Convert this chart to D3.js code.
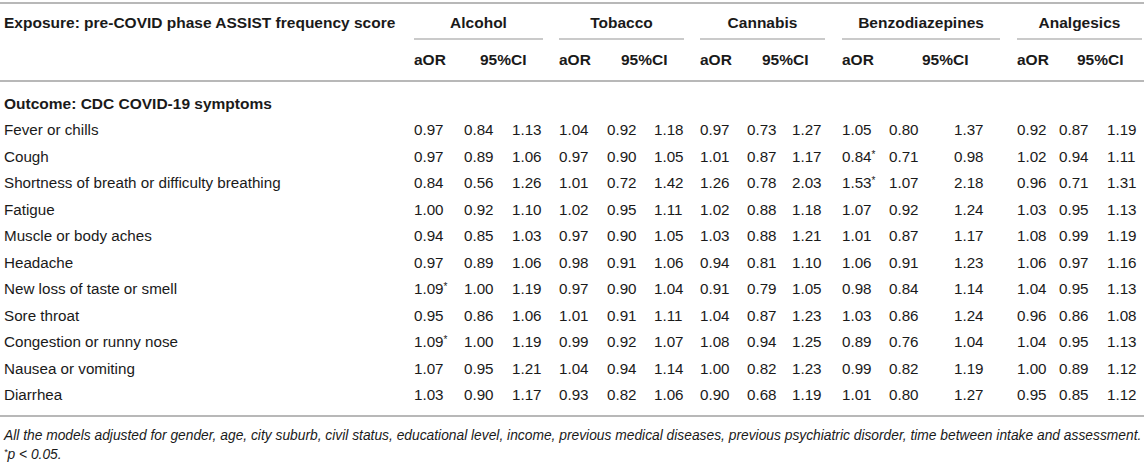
<!DOCTYPE html>
<html>
<head>
<meta charset="utf-8">
<script src="https://cdn.jsdelivr.net/npm/d3@7"></script>
<style>
  html, body { margin: 0; padding: 0; background: #fff; }
  svg { display: block; font-family: "Liberation Sans", Arial, Helvetica, sans-serif; }
</style>
</head>
<body>
<div id="chart"></div>
<script>
// ---- data ----
var symptoms = [
  "Fever or chills",
  "Cough",
  "Shortness of breath or difficulty breathing",
  "Fatigue",
  "Muscle or body aches",
  "Headache",
  "New loss of taste or smell",
  "Sore throat",
  "Congestion or runny nose",
  "Nausea or vomiting",
  "Diarrhea"
];

var substances = ["Alcohol", "Tobacco", "Cannabis", "Benzodiazepines", "Analgesics"];

// [aOR, 95%CI low, 95%CI high] per symptom
var alcohol = [
  [0.97, 0.84, 1.13], [0.97, 0.89, 1.06], [0.84, 0.56, 1.26], [1.00, 0.92, 1.10],
  [0.94, 0.85, 1.03], [0.97, 0.89, 1.06], [1.09, 1.00, 1.19], [0.95, 0.86, 1.06],
  [1.09, 1.00, 1.19], [1.07, 0.95, 1.21], [1.03, 0.90, 1.17]
];
var tobacco = [
  [1.04, 0.92, 1.18], [0.97, 0.90, 1.05], [1.01, 0.72, 1.42], [1.02, 0.95, 1.11],
  [0.97, 0.90, 1.05], [0.98, 0.91, 1.06], [0.97, 0.90, 1.04], [1.01, 0.91, 1.11],
  [0.99, 0.92, 1.07], [1.04, 0.94, 1.14], [0.93, 0.82, 1.06]
];
var cannabis = [
  [0.97, 0.73, 1.27], [1.01, 0.87, 1.17], [1.26, 0.78, 2.03], [1.02, 0.88, 1.18],
  [1.03, 0.88, 1.21], [0.94, 0.81, 1.10], [0.91, 0.79, 1.05], [1.04, 0.87, 1.23],
  [1.08, 0.94, 1.25], [1.00, 0.82, 1.23], [0.90, 0.68, 1.19]
];
var benzodiazepines = [
  [1.05, 0.80, 1.37], [0.84, 0.71, 0.98], [1.53, 1.07, 2.18], [1.07, 0.92, 1.24],
  [1.01, 0.87, 1.17], [1.06, 0.91, 1.23], [0.98, 0.84, 1.14], [1.03, 0.86, 1.24],
  [0.89, 0.76, 1.04], [0.99, 0.82, 1.19], [1.01, 0.80, 1.27]
];
var analgesics = [
  [0.92, 0.87, 1.19], [1.02, 0.94, 1.11], [0.96, 0.71, 1.31], [1.03, 0.95, 1.13],
  [1.08, 0.99, 1.19], [1.06, 0.97, 1.16], [1.04, 0.95, 1.13], [0.96, 0.86, 1.08],
  [1.04, 0.95, 1.13], [1.00, 0.89, 1.12], [0.95, 0.85, 1.12]
];

// significant aOR (p < 0.05): [substance, symptom]
var significant = [
  ["Alcohol", "New loss of taste or smell"],
  ["Alcohol", "Congestion or runny nose"],
  ["Benzodiazepines", "Cough"],
  ["Benzodiazepines", "Shortness of breath or difficulty breathing"]
];

var exposureTitle = "Exposure: pre-COVID phase ASSIST frequency score";
var outcomeTitle = "Outcome: CDC COVID-19 symptoms";
var footnote = "All the models adjusted for gender, age, city suburb, civil status, educational level, income, previous medical diseases, previous psychiatric disorder, time between intake and assessment.";

// ---- layout ----
var width = 1144, height = 462;
var lineColor = "#b8b8b8", textColor = "#1a1a1a";
var bodySize = 15.2, headSize = 15.5, footSize = 13.8;

// x positions per substance group: underline start/end, aOR, CI low, CI high, "95%CI" label
var groupLayout = [
  {x0: 414, x1: 543, aor: 414, lo: 464, hi: 512, ci: 480},
  {x0: 559, x1: 684, aor: 559, lo: 607, hi: 654, ci: 621},
  {x0: 700, x1: 825, aor: 700, lo: 747, hi: 792, ci: 762},
  {x0: 842, x1: 1000, aor: 842, lo: 889, hi: 954, ci: 922},
  {x0: 1017, x1: 1142, aor: 1017, lo: 1059, hi: 1107, ci: 1077}
];

var values = [alcohol, tobacco, cannabis, benzodiazepines, analgesics];
var fmt = d3.format(".2f");
var isSig = function(sub, sym){
  return significant.some(function(s){ return s[0] === sub && s[1] === sym; });
};

var y = d3.scalePoint()
  .domain(symptoms)
  .range([130, 395]);

var svg = d3.select("#chart")
  .append("svg")
  .attr("width", width)
  .attr("height", height);

// baseline offset from a row's visual centre (half the cap height)
var base = 5.4;

// horizontal rules
var rules = [3, 81, 416];
svg.append("g")
  .selectAll("line")
  .data(rules)
  .join("line")
  .attr("x1", 0)
  .attr("x2", width)
  .attr("y1", d => d)
  .attr("y2", d => d)
  .attr("stroke", lineColor)
  .attr("stroke-width", 2);

// header
var head = svg.append("g")
  .attr("fill", textColor)
  .attr("font-size", headSize)
  .attr("font-weight", "bold");

head.append("text")
  .attr("x", 4)
  .attr("y", 23 + base)
  .text(exposureTitle);

var groups = head.selectAll("g.group")
  .data(substances)
  .join("g")
  .attr("class", "group");

groups.append("text")
  .attr("x", (d, i) => (groupLayout[i].x0 + groupLayout[i].x1) / 2)
  .attr("y", 23 + base)
  .attr("text-anchor", "middle")
  .text(d => d);

groups.append("line")
  .attr("x1", (d, i) => groupLayout[i].x0)
  .attr("x2", (d, i) => groupLayout[i].x1)
  .attr("y1", 39)
  .attr("y2", 39)
  .attr("stroke", lineColor)
  .attr("stroke-width", 1.5);

groups.append("text")
  .attr("x", (d, i) => groupLayout[i].aor)
  .attr("y", 60 + base)
  .text("aOR");

groups.append("text")
  .attr("x", (d, i) => groupLayout[i].ci)
  .attr("y", 60 + base)
  .text("95%CI");

head.append("text")
  .attr("x", 4)
  .attr("y", 104 + base)
  .text(outcomeTitle);

// body rows
var body = svg.append("g")
  .attr("fill", textColor)
  .attr("font-size", bodySize);

var rows = body.selectAll("g.row")
  .data(symptoms)
  .join("g")
  .attr("class", "row")
  .attr("transform", d => "translate(0," + (y(d) + base) + ")");

rows.append("text")
  .attr("x", 4)
  .text(d => d);

rows.each(function(sym, r){
  var row = d3.select(this);
  substances.forEach(function(sub, s){
    var v = values[s][r], g = groupLayout[s];
    var t = row.append("text")
      .attr("x", g.aor)
      .text(fmt(v[0]));
    if (isSig(sub, sym)) {
      t.append("tspan").attr("font-size", 10).attr("dy", -4).text("*");
    }
    row.append("text")
      .attr("x", g.lo)
      .text(fmt(v[1]));
    row.append("text")
      .attr("x", g.hi)
      .text(fmt(v[2]));
  });
});

// footnotes
var foot = svg.append("g")
  .attr("fill", textColor)
  .attr("font-size", footSize)
  .attr("font-style", "italic");

foot.append("text")
  .attr("x", 4)
  .attr("y", 435 + 4.9)
  .text(footnote);

var p = foot.append("text")
  .attr("x", 4)
  .attr("y", 454 + 4.9);
p.append("tspan").attr("font-size", 9).attr("dy", -4).text("*");
p.append("tspan").attr("dy", 4).text("p < 0.05.");
</script>
</body>
</html>
